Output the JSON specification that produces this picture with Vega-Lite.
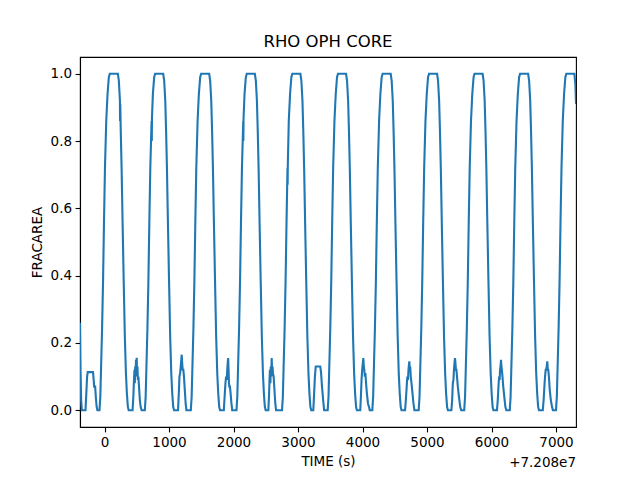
{
  "$schema": "https://vega.github.io/schema/vega-lite/v6.json",
  "width": 496,
  "height": 370,
  "autosize": {"type": "none"},
  "padding": {"left": 80, "top": 57, "right": 64, "bottom": 53},
  "background": "white",
  "title": {"text": "RHO OPH CORE", "fontSize": 16.5, "fontWeight": "normal", "font": "DejaVu Sans", "color": "black", "offset": 7, "anchor": "middle"},
  "config": {
    "view": {"stroke": "black", "strokeWidth": 1.1},
    "axis": {"domainColor": "black", "domainWidth": 1.1, "tickColor": "black", "tickWidth": 1.1, "tickSize": 4.9, "labelPadding": 3.5, "labelFont": "DejaVu Sans", "labelFontSize": 13.5, "labelColor": "black", "titleFont": "DejaVu Sans", "titleFontSize": 13.5, "titleFontWeight": "normal", "titleColor": "black", "grid": false}
  },
  "layer": [
    {
      "data": {"values": [
        {"time": -380, "fracarea": 0.26}, {"time": -372, "fracarea": 0.12}, {"time": -362, "fracarea": 0.03}, {"time": -352, "fracarea": 0}, {"time": -295, "fracarea": 0}, {"time": -282, "fracarea": 0.05}, {"time": -270, "fracarea": 0.1}, {"time": -260, "fracarea": 0.113}, {"time": -178, "fracarea": 0.113}, {"time": -168, "fracarea": 0.09}, {"time": -160, "fracarea": 0.07}, {"time": -145, "fracarea": 0.07}, {"time": -135, "fracarea": 0.04}, {"time": -122, "fracarea": 0.01}, {"time": -110, "fracarea": 0},
        {"time": -78, "fracarea": 0}, {"time": -65, "fracarea": 0.04}, {"time": -53, "fracarea": 0.13}, {"time": -38, "fracarea": 0.24}, {"time": -23, "fracarea": 0.38}, {"time": -8, "fracarea": 0.56}, {"time": 7, "fracarea": 0.72}, {"time": 27, "fracarea": 0.86}, {"time": 47, "fracarea": 0.94}, {"time": 67, "fracarea": 0.99}, {"time": 82, "fracarea": 1}, {"time": 207, "fracarea": 1}, {"time": 222, "fracarea": 0.98}, {"time": 239, "fracarea": 0.92}, {"time": 241, "fracarea": 0.86}, {"time": 244, "fracarea": 0.91}, {"time": 252, "fracarea": 0.83}, {"time": 265, "fracarea": 0.72}, {"time": 280, "fracarea": 0.56}, {"time": 297, "fracarea": 0.39}, {"time": 315, "fracarea": 0.22}, {"time": 332, "fracarea": 0.11}, {"time": 347, "fracarea": 0.05}, {"time": 362, "fracarea": 0.01}, {"time": 375, "fracarea": 0},
        {"time": 435, "fracarea": 0}, {"time": 447, "fracarea": 0.04}, {"time": 457, "fracarea": 0.09}, {"time": 465, "fracarea": 0.12}, {"time": 470, "fracarea": 0.08}, {"time": 476, "fracarea": 0.13}, {"time": 482, "fracarea": 0.1}, {"time": 488, "fracarea": 0.15}, {"time": 493, "fracarea": 0.11}, {"time": 499, "fracarea": 0.156}, {"time": 505, "fracarea": 0.1}, {"time": 511, "fracarea": 0.13}, {"time": 517, "fracarea": 0.09}, {"time": 525, "fracarea": 0.1}, {"time": 535, "fracarea": 0.07}, {"time": 548, "fracarea": 0.03}, {"time": 560, "fracarea": 0.01}, {"time": 575, "fracarea": 0},
        {"time": 625, "fracarea": 0}, {"time": 638, "fracarea": 0.04}, {"time": 650, "fracarea": 0.13}, {"time": 665, "fracarea": 0.24}, {"time": 680, "fracarea": 0.38}, {"time": 695, "fracarea": 0.56}, {"time": 710, "fracarea": 0.72}, {"time": 730, "fracarea": 0.86}, {"time": 733, "fracarea": 0.8}, {"time": 736, "fracarea": 0.87}, {"time": 750, "fracarea": 0.94}, {"time": 770, "fracarea": 0.99}, {"time": 785, "fracarea": 1}, {"time": 910, "fracarea": 1}, {"time": 925, "fracarea": 0.98}, {"time": 942, "fracarea": 0.92}, {"time": 955, "fracarea": 0.83}, {"time": 968, "fracarea": 0.72}, {"time": 983, "fracarea": 0.56}, {"time": 1000, "fracarea": 0.39}, {"time": 1018, "fracarea": 0.22}, {"time": 1035, "fracarea": 0.11}, {"time": 1050, "fracarea": 0.05}, {"time": 1065, "fracarea": 0.01}, {"time": 1078, "fracarea": 0},
        {"time": 1140, "fracarea": 0}, {"time": 1152, "fracarea": 0.05}, {"time": 1162, "fracarea": 0.1}, {"time": 1172, "fracarea": 0.11}, {"time": 1182, "fracarea": 0.13}, {"time": 1190, "fracarea": 0.15}, {"time": 1197, "fracarea": 0.165}, {"time": 1204, "fracarea": 0.14}, {"time": 1212, "fracarea": 0.12}, {"time": 1222, "fracarea": 0.12}, {"time": 1232, "fracarea": 0.1}, {"time": 1245, "fracarea": 0.06}, {"time": 1258, "fracarea": 0.02}, {"time": 1270, "fracarea": 0},
        {"time": 1338, "fracarea": 0}, {"time": 1351, "fracarea": 0.04}, {"time": 1363, "fracarea": 0.13}, {"time": 1378, "fracarea": 0.24}, {"time": 1393, "fracarea": 0.38}, {"time": 1408, "fracarea": 0.56}, {"time": 1423, "fracarea": 0.72}, {"time": 1443, "fracarea": 0.86}, {"time": 1463, "fracarea": 0.94}, {"time": 1483, "fracarea": 0.99}, {"time": 1498, "fracarea": 1}, {"time": 1623, "fracarea": 1}, {"time": 1638, "fracarea": 0.98}, {"time": 1655, "fracarea": 0.92}, {"time": 1668, "fracarea": 0.83}, {"time": 1681, "fracarea": 0.72}, {"time": 1696, "fracarea": 0.56}, {"time": 1713, "fracarea": 0.39}, {"time": 1731, "fracarea": 0.22}, {"time": 1748, "fracarea": 0.11}, {"time": 1763, "fracarea": 0.05}, {"time": 1778, "fracarea": 0.01}, {"time": 1791, "fracarea": 0},
        {"time": 1850, "fracarea": 0}, {"time": 1862, "fracarea": 0.04}, {"time": 1875, "fracarea": 0.08}, {"time": 1885, "fracarea": 0.1}, {"time": 1895, "fracarea": 0.09}, {"time": 1903, "fracarea": 0.12}, {"time": 1910, "fracarea": 0.14}, {"time": 1917, "fracarea": 0.155}, {"time": 1923, "fracarea": 0.12}, {"time": 1930, "fracarea": 0.08}, {"time": 1936, "fracarea": 0.07}, {"time": 1945, "fracarea": 0.07}, {"time": 1955, "fracarea": 0.05}, {"time": 1968, "fracarea": 0.02}, {"time": 1980, "fracarea": 0},
        {"time": 2046, "fracarea": 0}, {"time": 2059, "fracarea": 0.04}, {"time": 2071, "fracarea": 0.13}, {"time": 2086, "fracarea": 0.24}, {"time": 2101, "fracarea": 0.38}, {"time": 2116, "fracarea": 0.56}, {"time": 2131, "fracarea": 0.72}, {"time": 2151, "fracarea": 0.86}, {"time": 2153, "fracarea": 0.8}, {"time": 2156, "fracarea": 0.87}, {"time": 2171, "fracarea": 0.94}, {"time": 2191, "fracarea": 0.99}, {"time": 2206, "fracarea": 1}, {"time": 2331, "fracarea": 1}, {"time": 2346, "fracarea": 0.98}, {"time": 2363, "fracarea": 0.92}, {"time": 2376, "fracarea": 0.83}, {"time": 2389, "fracarea": 0.72}, {"time": 2404, "fracarea": 0.56}, {"time": 2421, "fracarea": 0.39}, {"time": 2439, "fracarea": 0.22}, {"time": 2456, "fracarea": 0.11}, {"time": 2471, "fracarea": 0.05}, {"time": 2486, "fracarea": 0.01}, {"time": 2499, "fracarea": 0},
        {"time": 2540, "fracarea": 0}, {"time": 2550, "fracarea": 0.04}, {"time": 2558, "fracarea": 0.09}, {"time": 2565, "fracarea": 0.12}, {"time": 2572, "fracarea": 0.08}, {"time": 2578, "fracarea": 0.13}, {"time": 2585, "fracarea": 0.1}, {"time": 2592, "fracarea": 0.155}, {"time": 2598, "fracarea": 0.12}, {"time": 2605, "fracarea": 0.13}, {"time": 2612, "fracarea": 0.11}, {"time": 2622, "fracarea": 0.1}, {"time": 2635, "fracarea": 0.06}, {"time": 2648, "fracarea": 0.02}, {"time": 2660, "fracarea": 0},
        {"time": 2752, "fracarea": 0}, {"time": 2765, "fracarea": 0.04}, {"time": 2777, "fracarea": 0.13}, {"time": 2792, "fracarea": 0.24}, {"time": 2807, "fracarea": 0.38}, {"time": 2822, "fracarea": 0.56}, {"time": 2837, "fracarea": 0.72}, {"time": 2839, "fracarea": 0.67}, {"time": 2842, "fracarea": 0.73}, {"time": 2857, "fracarea": 0.86}, {"time": 2877, "fracarea": 0.94}, {"time": 2897, "fracarea": 0.99}, {"time": 2912, "fracarea": 1}, {"time": 3037, "fracarea": 1}, {"time": 3052, "fracarea": 0.98}, {"time": 3069, "fracarea": 0.92}, {"time": 3082, "fracarea": 0.83}, {"time": 3095, "fracarea": 0.72}, {"time": 3110, "fracarea": 0.56}, {"time": 3127, "fracarea": 0.39}, {"time": 3145, "fracarea": 0.22}, {"time": 3162, "fracarea": 0.11}, {"time": 3177, "fracarea": 0.05}, {"time": 3192, "fracarea": 0.01}, {"time": 3205, "fracarea": 0},
        {"time": 3237, "fracarea": 0}, {"time": 3250, "fracarea": 0.05}, {"time": 3262, "fracarea": 0.1}, {"time": 3275, "fracarea": 0.13}, {"time": 3345, "fracarea": 0.13}, {"time": 3358, "fracarea": 0.11}, {"time": 3372, "fracarea": 0.07}, {"time": 3390, "fracarea": 0.03}, {"time": 3405, "fracarea": 0},
        {"time": 3460, "fracarea": 0}, {"time": 3473, "fracarea": 0.04}, {"time": 3485, "fracarea": 0.13}, {"time": 3500, "fracarea": 0.24}, {"time": 3515, "fracarea": 0.38}, {"time": 3530, "fracarea": 0.56}, {"time": 3545, "fracarea": 0.72}, {"time": 3565, "fracarea": 0.86}, {"time": 3585, "fracarea": 0.94}, {"time": 3605, "fracarea": 0.99}, {"time": 3620, "fracarea": 1}, {"time": 3745, "fracarea": 1}, {"time": 3760, "fracarea": 0.98}, {"time": 3777, "fracarea": 0.92}, {"time": 3790, "fracarea": 0.83}, {"time": 3803, "fracarea": 0.72}, {"time": 3818, "fracarea": 0.56}, {"time": 3835, "fracarea": 0.39}, {"time": 3853, "fracarea": 0.22}, {"time": 3870, "fracarea": 0.11}, {"time": 3885, "fracarea": 0.05}, {"time": 3900, "fracarea": 0.01}, {"time": 3913, "fracarea": 0},
        {"time": 3965, "fracarea": 0}, {"time": 3975, "fracarea": 0.04}, {"time": 3985, "fracarea": 0.09}, {"time": 3995, "fracarea": 0.12}, {"time": 4005, "fracarea": 0.14}, {"time": 4013, "fracarea": 0.155}, {"time": 4020, "fracarea": 0.13}, {"time": 4028, "fracarea": 0.12}, {"time": 4036, "fracarea": 0.1}, {"time": 4045, "fracarea": 0.11}, {"time": 4055, "fracarea": 0.08}, {"time": 4068, "fracarea": 0.05}, {"time": 4085, "fracarea": 0.02}, {"time": 4100, "fracarea": 0.01}, {"time": 4112, "fracarea": 0},
        {"time": 4152, "fracarea": 0}, {"time": 4165, "fracarea": 0.04}, {"time": 4177, "fracarea": 0.13}, {"time": 4192, "fracarea": 0.24}, {"time": 4207, "fracarea": 0.38}, {"time": 4222, "fracarea": 0.56}, {"time": 4237, "fracarea": 0.72}, {"time": 4257, "fracarea": 0.86}, {"time": 4277, "fracarea": 0.94}, {"time": 4297, "fracarea": 0.99}, {"time": 4312, "fracarea": 1}, {"time": 4437, "fracarea": 1}, {"time": 4452, "fracarea": 0.98}, {"time": 4469, "fracarea": 0.92}, {"time": 4482, "fracarea": 0.83}, {"time": 4495, "fracarea": 0.72}, {"time": 4510, "fracarea": 0.56}, {"time": 4527, "fracarea": 0.39}, {"time": 4545, "fracarea": 0.22}, {"time": 4562, "fracarea": 0.11}, {"time": 4577, "fracarea": 0.05}, {"time": 4592, "fracarea": 0.01}, {"time": 4605, "fracarea": 0},
        {"time": 4660, "fracarea": 0}, {"time": 4672, "fracarea": 0.03}, {"time": 4685, "fracarea": 0.07}, {"time": 4695, "fracarea": 0.1}, {"time": 4705, "fracarea": 0.09}, {"time": 4713, "fracarea": 0.12}, {"time": 4720, "fracarea": 0.135}, {"time": 4726, "fracarea": 0.145}, {"time": 4733, "fracarea": 0.12}, {"time": 4740, "fracarea": 0.13}, {"time": 4748, "fracarea": 0.1}, {"time": 4760, "fracarea": 0.08}, {"time": 4775, "fracarea": 0.05}, {"time": 4790, "fracarea": 0.02}, {"time": 4805, "fracarea": 0},
        {"time": 4871, "fracarea": 0}, {"time": 4884, "fracarea": 0.04}, {"time": 4896, "fracarea": 0.13}, {"time": 4911, "fracarea": 0.24}, {"time": 4926, "fracarea": 0.38}, {"time": 4941, "fracarea": 0.56}, {"time": 4956, "fracarea": 0.72}, {"time": 4976, "fracarea": 0.86}, {"time": 4996, "fracarea": 0.94}, {"time": 5016, "fracarea": 0.99}, {"time": 5031, "fracarea": 1}, {"time": 5156, "fracarea": 1}, {"time": 5171, "fracarea": 0.98}, {"time": 5188, "fracarea": 0.92}, {"time": 5201, "fracarea": 0.83}, {"time": 5214, "fracarea": 0.72}, {"time": 5229, "fracarea": 0.56}, {"time": 5246, "fracarea": 0.39}, {"time": 5264, "fracarea": 0.22}, {"time": 5281, "fracarea": 0.11}, {"time": 5296, "fracarea": 0.05}, {"time": 5311, "fracarea": 0.01}, {"time": 5324, "fracarea": 0},
        {"time": 5378, "fracarea": 0}, {"time": 5390, "fracarea": 0.03}, {"time": 5400, "fracarea": 0.08}, {"time": 5410, "fracarea": 0.09}, {"time": 5418, "fracarea": 0.12}, {"time": 5426, "fracarea": 0.14}, {"time": 5434, "fracarea": 0.155}, {"time": 5441, "fracarea": 0.14}, {"time": 5448, "fracarea": 0.12}, {"time": 5456, "fracarea": 0.12}, {"time": 5465, "fracarea": 0.1}, {"time": 5478, "fracarea": 0.07}, {"time": 5495, "fracarea": 0.04}, {"time": 5515, "fracarea": 0.01}, {"time": 5530, "fracarea": 0},
        {"time": 5577, "fracarea": 0}, {"time": 5590, "fracarea": 0.04}, {"time": 5602, "fracarea": 0.13}, {"time": 5617, "fracarea": 0.24}, {"time": 5632, "fracarea": 0.38}, {"time": 5647, "fracarea": 0.56}, {"time": 5662, "fracarea": 0.72}, {"time": 5682, "fracarea": 0.86}, {"time": 5702, "fracarea": 0.94}, {"time": 5722, "fracarea": 0.99}, {"time": 5737, "fracarea": 1}, {"time": 5862, "fracarea": 1}, {"time": 5877, "fracarea": 0.98}, {"time": 5894, "fracarea": 0.92}, {"time": 5907, "fracarea": 0.83}, {"time": 5920, "fracarea": 0.72}, {"time": 5935, "fracarea": 0.56}, {"time": 5952, "fracarea": 0.39}, {"time": 5970, "fracarea": 0.22}, {"time": 5987, "fracarea": 0.11}, {"time": 6002, "fracarea": 0.05}, {"time": 6017, "fracarea": 0.01}, {"time": 6030, "fracarea": 0},
        {"time": 6085, "fracarea": 0}, {"time": 6097, "fracarea": 0.03}, {"time": 6108, "fracarea": 0.07}, {"time": 6118, "fracarea": 0.1}, {"time": 6126, "fracarea": 0.09}, {"time": 6133, "fracarea": 0.12}, {"time": 6140, "fracarea": 0.13}, {"time": 6147, "fracarea": 0.15}, {"time": 6154, "fracarea": 0.13}, {"time": 6161, "fracarea": 0.12}, {"time": 6170, "fracarea": 0.1}, {"time": 6182, "fracarea": 0.07}, {"time": 6198, "fracarea": 0.04}, {"time": 6215, "fracarea": 0.01}, {"time": 6230, "fracarea": 0},
        {"time": 6283, "fracarea": 0}, {"time": 6296, "fracarea": 0.04}, {"time": 6308, "fracarea": 0.13}, {"time": 6323, "fracarea": 0.24}, {"time": 6338, "fracarea": 0.38}, {"time": 6353, "fracarea": 0.56}, {"time": 6368, "fracarea": 0.72}, {"time": 6388, "fracarea": 0.86}, {"time": 6408, "fracarea": 0.94}, {"time": 6428, "fracarea": 0.99}, {"time": 6443, "fracarea": 1}, {"time": 6568, "fracarea": 1}, {"time": 6583, "fracarea": 0.98}, {"time": 6600, "fracarea": 0.92}, {"time": 6613, "fracarea": 0.83}, {"time": 6626, "fracarea": 0.72}, {"time": 6641, "fracarea": 0.56}, {"time": 6658, "fracarea": 0.39}, {"time": 6676, "fracarea": 0.22}, {"time": 6693, "fracarea": 0.11}, {"time": 6708, "fracarea": 0.05}, {"time": 6723, "fracarea": 0.01}, {"time": 6736, "fracarea": 0},
        {"time": 6795, "fracarea": 0}, {"time": 6808, "fracarea": 0.03}, {"time": 6820, "fracarea": 0.07}, {"time": 6830, "fracarea": 0.1}, {"time": 6840, "fracarea": 0.12}, {"time": 6848, "fracarea": 0.12}, {"time": 6856, "fracarea": 0.13}, {"time": 6865, "fracarea": 0.145}, {"time": 6872, "fracarea": 0.12}, {"time": 6880, "fracarea": 0.12}, {"time": 6890, "fracarea": 0.1}, {"time": 6903, "fracarea": 0.06}, {"time": 6920, "fracarea": 0.03}, {"time": 6938, "fracarea": 0.01}, {"time": 6952, "fracarea": 0},
        {"time": 7000, "fracarea": 0}, {"time": 7013, "fracarea": 0.04}, {"time": 7025, "fracarea": 0.13}, {"time": 7040, "fracarea": 0.24}, {"time": 7055, "fracarea": 0.38}, {"time": 7070, "fracarea": 0.56}, {"time": 7085, "fracarea": 0.72}, {"time": 7105, "fracarea": 0.86}, {"time": 7125, "fracarea": 0.94}, {"time": 7145, "fracarea": 0.99}, {"time": 7160, "fracarea": 1}, {"time": 7285, "fracarea": 1}, {"time": 7300, "fracarea": 0.97}, {"time": 7310, "fracarea": 0.91}
      ]},
      "mark": {"type": "line", "color": "#1f77b4", "strokeWidth": 2.1, "clip": true},
      "encoding": {
        "x": {"field": "time", "type": "quantitative", "scale": {"domain": [-380, 7310], "nice": false, "zero": false}, "axis": {"title": "TIME (s)", "values": [0, 1000, 2000, 3000, 4000, 5000, 6000, 7000], "format": "d", "titlePadding": 6}},
        "y": {"field": "fracarea", "type": "quantitative", "scale": {"domain": [-0.05, 1.05], "nice": false, "zero": false}, "axis": {"title": "FRACAREA", "values": [0, 0.2, 0.4, 0.6, 0.8, 1.0], "format": ".1f", "titlePadding": 6}}
      }
    },
    {
      "data": {"values": [{"label": "+7.208e7"}]},
      "mark": {"type": "text", "align": "right", "baseline": "middle", "font": "DejaVu Sans", "fontSize": 13.5, "color": "black"},
      "encoding": {
        "text": {"field": "label", "type": "nominal"},
        "x": {"datum": 7310, "type": "quantitative"},
        "y": {"datum": -0.157, "type": "quantitative"}
      }
    }
  ]
}
